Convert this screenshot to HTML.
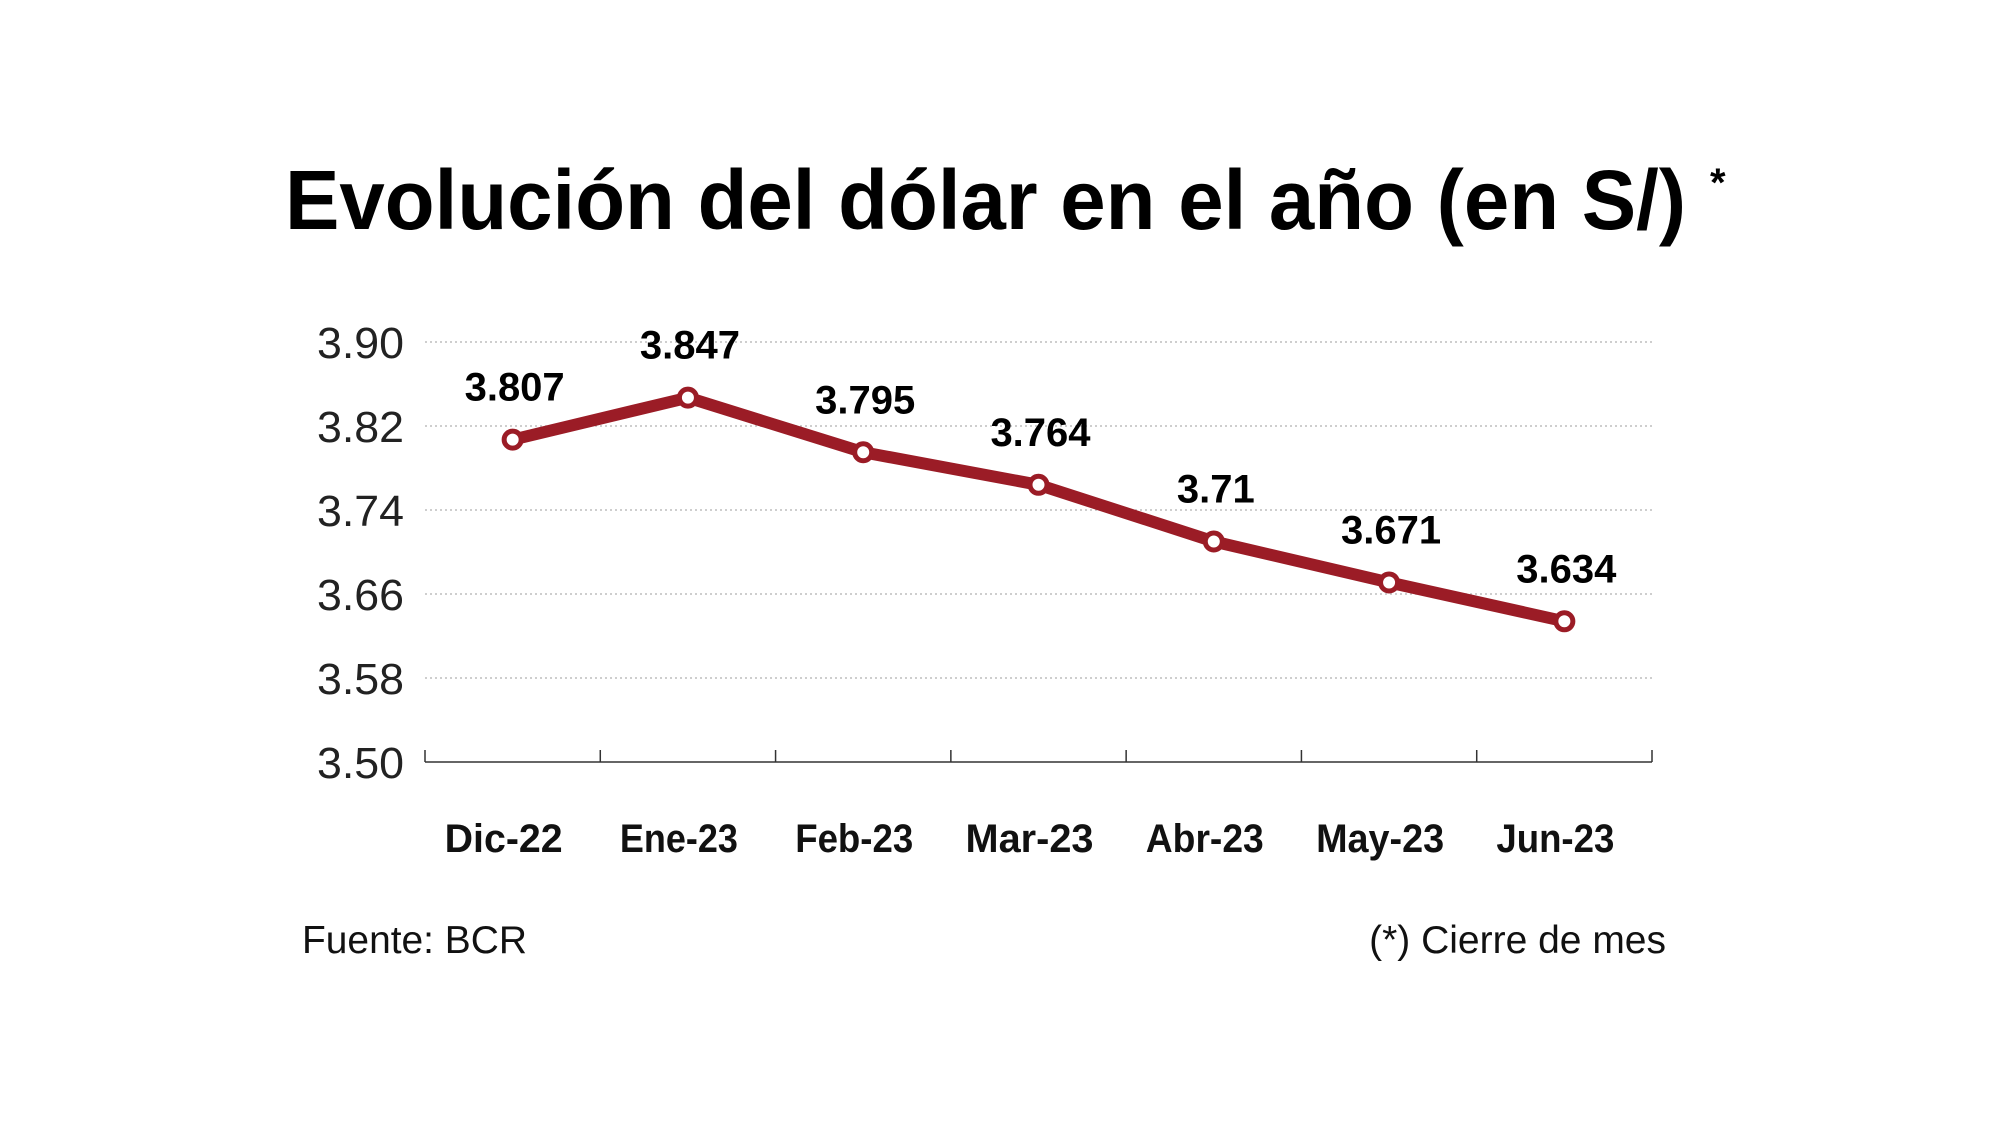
<!DOCTYPE html>
<html><head><meta charset="utf-8"><style>
html,body{margin:0;padding:0;background:#fff;}
svg{display:block;font-family:"Liberation Sans",sans-serif;}
</style></head><body>
<svg id="chart" width="2003" height="1137" viewBox="0 0 2003 1137">
<text x="285" y="229" font-size="84" font-weight="900" textLength="1401" lengthAdjust="spacingAndGlyphs" fill="#000">Evolución del dólar en el año (en S/)</text>
<text x="1710" y="196" font-size="40" font-weight="700" fill="#000">*</text>
<g id="grid"></g><g id="axis"></g><g id="series"></g>
<text x="302" y="953" font-size="39" textLength="225" lengthAdjust="spacingAndGlyphs" fill="#111">Fuente: BCR</text>
<text x="1666" y="953" font-size="39" text-anchor="end" fill="#111">(*) Cierre de mes</text>
</svg>
<script>
const categories = ["Dic-22","Ene-23","Feb-23","Mar-23","Abr-23","May-23","Jun-23"];
const values = [3.807,3.847,3.795,3.764,3.71,3.671,3.634];
const valueLabels = ["3.807","3.847","3.795","3.764","3.71","3.671","3.634"];
const yTicks = [3.50,3.58,3.66,3.74,3.82,3.90];
const yTickLabels = ["3.50","3.58","3.66","3.74","3.82","3.90"];
const yMin = 3.5, yMax = 3.9;

const NS="http://www.w3.org/2000/svg";
const X0=425, X1=1652, Y0=762, Y1=342;
const band=(X1-X0)/categories.length;
const xPos=i=>X0+band*(i+0.5);
const yPos=v=>Y0-(v-yMin)/(yMax-yMin)*(Y0-Y1);
function mk(tag,attrs,parent){const e=document.createElementNS(NS,tag);for(const k in attrs)e.setAttribute(k,attrs[k]);parent.appendChild(e);return e;}
const grid=document.getElementById('grid'),axis=document.getElementById('axis'),series=document.getElementById('series');

yTicks.forEach((t,i)=>{
  const y=yPos(t);
  if(i>0){
    const g=mk('line',{x1:X0,x2:X1,y1:y,y2:y,stroke:'#bdbdbd','stroke-width':1.5,'stroke-dasharray':'2 3'},grid);
    
    
  }
  const l=mk('text',{x:404,y:y+16,'font-size':44,'text-anchor':'end',fill:'#222',textLength:87,lengthAdjust:'spacingAndGlyphs'},axis);
  l.textContent=yTickLabels[i];
  
  
});
const ax=mk('line',{x1:X0,x2:X1,y1:Y0,y2:Y0,stroke:'#333','stroke-width':1.5},axis);


for(let i=0;i<=categories.length;i++){
  const x=X0+band*i;
  const tk=mk('line',{x1:x,x2:x,y1:Y0,y2:Y0-12,stroke:'#333','stroke-width':1.5},axis);
  
  
}
categories.forEach((c,i)=>{
  const t=mk('text',{x:xPos(i)-9,y:852,'font-size':40,'font-weight':700,'text-anchor':'middle',fill:'#111',textLength:c.startsWith('M')?128:118,lengthAdjust:'spacingAndGlyphs'},axis);
  t.textContent=c;
  
  
});
const pts=values.map((v,i)=>xPos(i)+','+yPos(v)).join(' ');
const pl=mk('polyline',{points:pts,fill:'none',stroke:'#9b1c26','stroke-width':12,'stroke-linejoin':'round','stroke-linecap':'round'},series);


values.forEach((v,i)=>{
  const c=mk('circle',{cx:xPos(i),cy:yPos(v),r:8.5,fill:'#fff',stroke:'#9b1c26','stroke-width':5},series);
  
  
  const t=mk('text',{x:xPos(i)+2,y:yPos(v)-39,'font-size':40,'font-weight':700,'text-anchor':'middle',fill:'#000'},series);
  t.textContent=valueLabels[i];
  
  
});
</script>
</body></html>
